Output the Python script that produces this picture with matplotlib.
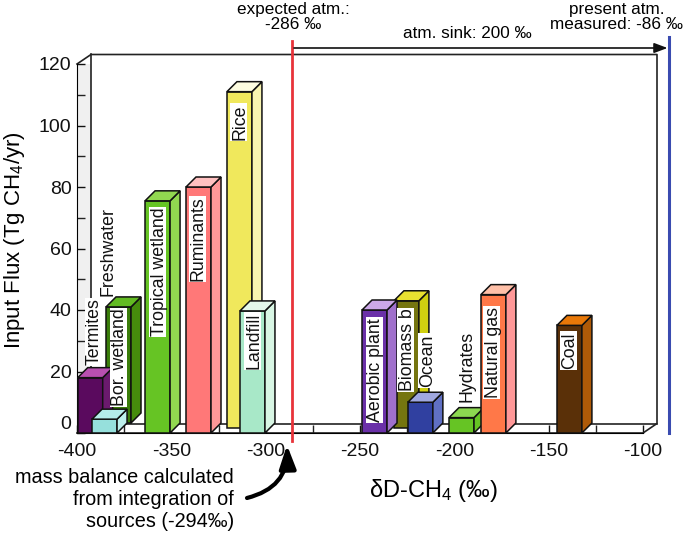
import matplotlib
matplotlib.use('Agg')
import matplotlib.pyplot as plt
from matplotlib.patches import FancyArrowPatch, Rectangle

plt.rcParams['font.family'] = ['Liberation Sans', 'DejaVu Sans']
plt.rcParams['mathtext.fontset'] = 'custom'
plt.rcParams['mathtext.rm'] = 'Liberation Sans'
plt.rcParams['mathtext.default'] = 'regular'
plt.rcParams['axes.unicode_minus'] = False

# bar data
names = ['Termites', 'Freshwater', 'Bor. wetland', 'Tropical wetland', 'Ruminants', 'Rice', 'Landfill',
         'Aerobic plant', 'Biomass b', 'Ocean', 'Hydrates', 'Natural gas', 'Coal']
deltaD = [-393, -385.4, -378, -357.3, -335.6, -313.9, -307, -242.3, -225.4, -218, -196.2, -179.3, -139]
flux = [18, 4.5, 41, 75.5, 80, 111, 39.7, 40, 43, 10, 5, 45, 35]
expected = -286
present = -86

W, H = 685, 534
X0, X1 = 77, 643    # front axis, pixels
Y0, Y1 = 433, 64

fig = plt.figure(figsize=(W / 100, H / 100), dpi=100)
ax = fig.add_axes([X0 / W, 1 - Y0 / H, (X1 - X0) / W, (Y0 - Y1) / H])
ax.set_xlim(-400, -100)
ax.set_ylim(0, 120)
ax.patch.set_visible(False)

px = 300 / (X1 - X0)    # data units per pixel
py = 120 / (Y0 - Y1)

# row shift and colours per bar: front, side, top
rows = [0, 0, 10, 0, 0, 5, 0, 0, 5, 0, 0, 0, 0]
colors = [('#5a0a5e', '#6b1a6e', '#b84fb0'), ('#96e0dc', '#bdf0ec', '#b4ecea'), ('#3a7d0a', '#468c0c', '#62bb22'),
          ('#66c424', '#92d850', '#92d850'), ('#ff7878', '#ff9898', '#ffc0c0'), ('#f0e85c', '#f8f4b0', '#fdfce0'),
          ('#a8e8c8', '#d8f6e4', '#e4f8ea'), ('#6a30a8', '#a070cc', '#cca8e8'), ('#757510', '#d0d010', '#e8e030'),
          ('#3040a0', '#6070c4', '#a0a8e0'), ('#66c424', '#66c424', '#8cd850'), ('#ff7848', '#ff9898', '#ffc0a8'),
          ('#5a3008', '#ae5a08', '#e87808')]
bw = 25 * px
dx_bar = 10 * px
dy_bar = 10 * py

# walls of the box
bx = 14 * px
by = 9.5 * py
ax.fill([-400, -400 + bx, -400 + bx, -400], [0, by, 120 + by, 120], color='#f0f0f0', lw=0, zorder=1)
ax.plot([-400, -400 + bx, -100 + bx, -100 + bx, -100, -400], [120, 120 + by, 120 + by, by, 0, 0],
        color='#222222', lw=1.2, zorder=2, clip_on=False)
ax.plot([-400 + bx, -400 + bx], [120 + by, by], color='#222222', lw=1.2, zorder=2, clip_on=False)
ax.plot([-400 + bx, -100 + bx], [by, by], color='#222222', lw=1.2, zorder=2, clip_on=False)

# draw back to front so the overlaps come out right
order = [5, 8, 2, 0, 4, 3, 1, 6, 7, 9, 10, 11, 12]
for z, i in enumerate(order):
    c = deltaD[i]
    base = rows[i] * py
    top = flux[i]
    l = c - bw / 2
    r = c + bw / 2
    zo = 3 + z * 0.1
    ax.bar(c, top - base, bw, bottom=base, color=colors[i][0], edgecolor='#111111', lw=1.1, zorder=zo, clip_on=False)
    ax.fill([r, r + dx_bar, r + dx_bar, r], [base, base + dy_bar, top + dy_bar, top], facecolor=colors[i][1],
            edgecolor='#111111', lw=1.1, zorder=zo, clip_on=False)
    ax.fill([l, l + dx_bar, r + dx_bar, r], [top, top + dy_bar, top + dy_bar, top], facecolor=colors[i][2],
            edgecolor='#111111', lw=1.1, zorder=zo, clip_on=False)

# labels on the bars, pixel centres
label_x = [93, 106.5, 118, 157.5, 197, 238, 252.5, 374, 405.7, 426, 465, 491.7, 568]
label_y = [332, 252, 357.5, 272, 239, 122, 341, 370, 350, 360.5, 366.5, 352, 350.5]
label_box = [True, False, True, True, True, True, True, True, True, True, False, True, True]
renderer = fig.canvas.get_renderer()
for i, n in enumerate(names):
    tx = -400 + (label_x[i] - X0) * px
    ty = (Y0 - label_y[i]) * py
    zo = 3.05 if i == 0 else 8
    # glyphs sit left of the line box centre, so nudge the word to the right
    t = ax.text(tx + 1.5 * px, ty, n, rotation=90, ha='center', va='center', fontsize=12.8, color='#111111',
                zorder=zo + 0.01, clip_on=False)
    if label_box[i]:
        # white patch behind the word, narrower than the font's line box
        ext = t.get_window_extent(renderer)
        ax.add_patch(Rectangle((tx - 8.5 * px, ty - (ext.height / 2 + 1) * py), 17 * px, (ext.height + 2) * py,
                               facecolor='white', edgecolor='none', zorder=zo, clip_on=False))

# reference lines
ax.plot([expected, expected], [-8 * py, (Y0 - 41) * py], color='#e8333a', lw=2, zorder=9, clip_on=False)
ax.plot([present, present], [0, (Y0 - 37) * py], color='#3a4bb0', lw=2.2, zorder=9, clip_on=False)

# sink arrow
ax.annotate('', xy=(present - 1, (Y0 - 48) * py), xytext=(expected + 1, (Y0 - 48) * py),
            arrowprops=dict(arrowstyle='-|>,head_length=0.8,head_width=0.3', color='#111111', lw=1.2,
                            shrinkA=0, shrinkB=0), zorder=9, annotation_clip=False)

ax.set_xticks([-400, -350, -300, -250, -200, -150, -100])
ax.set_xticks([-375, -325, -275, -225, -175, -125], minor=True)
ax.set_yticks([0, 20, 40, 60, 80, 100, 120])
ax.set_yticks([10, 30, 50, 70, 90, 110], minor=True)
ax.tick_params(which='both', direction='in', length=6, width=1, color='#222222', zorder=2)
ax.tick_params(axis='both', which='major', labelsize=14, colors='#111111')
ax.tick_params(axis='x', pad=7)
ax.tick_params(axis='y', pad=4)
ax.spines['top'].set_visible(False)
ax.spines['right'].set_visible(False)
ax.spines['left'].set_zorder(2)
ax.spines['bottom'].set_zorder(2)
ax.get_yticklabels()[0].set_verticalalignment('bottom')

# axis titles and notes
fig.text(15 / W, 1 - 240 / H, 'Input Flux (Tg CH$_4$/yr)', rotation=90, ha='center', va='center', fontsize=16)
fig.text(433 / W, 1 - 490 / H, 'δD-CH$_4$ (‰)', ha='center', va='center', fontsize=17)
fig.text(293 / W, 1 - 17 / H, 'expected atm.:\n-286 ‰', ha='center', va='center', fontsize=12.3, linespacing=1.05)
fig.text(617 / W, 1 - 17 / H, 'present atm.\nmeasured: -86 ‰', ha='center', va='center', fontsize=12.3, linespacing=1.05)
fig.text(403 / W, 1 - 33 / H, 'atm. sink: 200 ‰', ha='left', va='center', fontsize=12.3)
fig.text(234 / W, 1 - 499.5 / H, 'mass balance calculated\nfrom integration of\nsources (-294‰)', ha='right', va='center',
         fontsize=14.3, linespacing=1.22)

curve = FancyArrowPatch((247 / W, 1 - 498 / H), (287 / W, 1 - 445 / H), transform=fig.transFigure,
                        connectionstyle='arc3,rad=0.4', arrowstyle='-|>,head_length=0.7,head_width=0.25',
                        color='black', lw=3, shrinkA=0, shrinkB=0, mutation_scale=20)
fig.add_artist(curve)

fig.savefig('out.png', dpi=100)
